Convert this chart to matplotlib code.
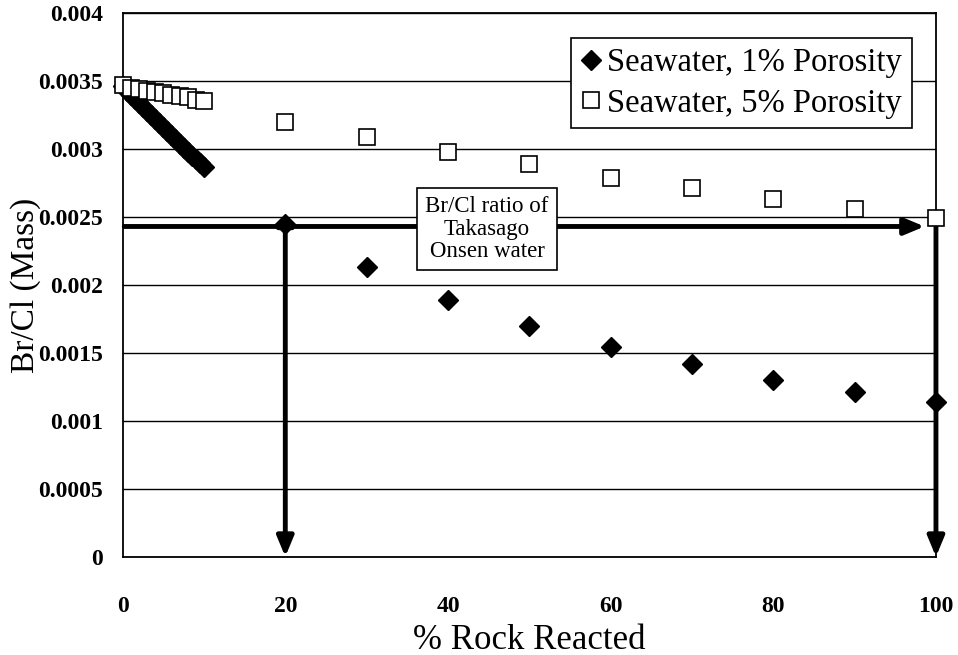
import matplotlib
matplotlib.use("Agg")
import matplotlib.pyplot as plt

# Model results: Br/Cl (mass) vs % rock reacted
x_1pct = [0, 0.5, 1, 1.5, 2, 2.5, 3, 3.5, 4, 4.5, 5, 5.5, 6, 6.5, 7, 7.5, 8, 8.5, 9, 9.5, 10,
          20, 30, 40, 50, 60, 70, 80, 90, 100]
y_1pct = [0.00346, 0.00343, 0.00340, 0.00337, 0.00334, 0.00331, 0.00328, 0.00325, 0.00322,
          0.00319, 0.00316, 0.00313, 0.00310, 0.00307, 0.00304, 0.00301, 0.00298, 0.00295,
          0.00293, 0.00290, 0.00287,
          0.00245, 0.00213, 0.00189, 0.00170, 0.00154, 0.00142, 0.00130, 0.00121, 0.00114]

x_5pct = [0, 1, 2, 3, 4, 5, 6, 7, 8, 9, 10, 20, 30, 40, 50, 60, 70, 80, 90, 100]
y_5pct = [0.00347, 0.00345, 0.00344, 0.00343, 0.00342, 0.00341, 0.00340, 0.00339, 0.00338,
          0.00336, 0.00335, 0.00320, 0.00309, 0.00298, 0.00289, 0.00279, 0.00271, 0.00263,
          0.00256, 0.00249]

takasago_ratio = 0.00243
x_ticks = [0, 20, 40, 60, 80, 100]
y_ticks = [0, 0.0005, 0.001, 0.0015, 0.002, 0.0025, 0.003, 0.0035, 0.004]
y_tick_labels = ["0", "0.0005", "0.001", "0.0015", "0.002", "0.0025", "0.003", "0.0035", "0.004"]

plt.rcParams['font.family'] = ['Liberation Serif', 'DejaVu Serif']

fig = plt.figure(figsize=(9.58, 6.55), dpi=100)
ax = fig.add_axes([0.128, 0.150, 0.849, 0.830])

ax.set_xlim(0, 100)
ax.set_ylim(0, 0.004)
ax.set_xticks(x_ticks)
ax.set_yticks(y_ticks)
ax.set_yticklabels(y_tick_labels)
ax.tick_params(length=0, labelsize=17)
ax.tick_params(axis='y', pad=14)
ax.tick_params(axis='x', pad=28)
for lbl in ax.get_xticklabels() + ax.get_yticklabels():
    lbl.set_fontweight('bold')

ax.yaxis.grid(True, color='black', linewidth=1.0)
ax.set_axisbelow(True)
for sp in ax.spines.values():
    sp.set_linewidth(1.3)

ax.set_xlabel("% Rock Reacted", fontsize=25, labelpad=5)
ax.set_ylabel("Br/Cl (Mass)", fontsize=24)
ax.yaxis.set_label_coords(-0.100, 0.5)

# Arrows marking the Takasago Onsen Br/Cl ratio
arrow_kw = dict(arrowstyle='-|>,head_length=1.2,head_width=0.5', color='black', lw=3.5,
                shrinkA=0, shrinkB=0)
ax.annotate("", xy=(98.6, takasago_ratio), xytext=(0.2, takasago_ratio),
            arrowprops=arrow_kw, zorder=3)
ax.annotate("", xy=(20, 0), xytext=(20, takasago_ratio), arrowprops=arrow_kw, zorder=3)
ax.annotate("", xy=(20, 0.00251), xytext=(20, takasago_ratio - 0.00002),
            arrowprops=dict(arrowstyle='-|>,head_length=0.6,head_width=0.5', color='black',
                            lw=3.5, shrinkA=0, shrinkB=0), zorder=3)
ax.annotate("", xy=(100, 0), xytext=(100, y_5pct[-1]), arrowprops=arrow_kw, zorder=3,
            annotation_clip=False)

ax.text(44.8, 0.00241, "Br/Cl ratio of\nTakasago\nOnsen water", fontsize=16.5,
        ha='center', va='center', linespacing=1.08, zorder=5,
        bbox=dict(boxstyle='square,pad=0.35', facecolor='white', edgecolor='black', lw=1.2))

ax.plot(x_1pct, y_1pct, linestyle='none', marker='D', markersize=10, color='black',
        label="Seawater, 1% Porosity", zorder=2.5, clip_on=False)
ax.plot(x_5pct, y_5pct, linestyle='none', marker='s', markersize=12, markerfacecolor='white',
        markeredgecolor='black', markeredgewidth=1.2, label="Seawater, 5% Porosity", zorder=4,
        clip_on=False)

leg = ax.legend(loc='upper right', bbox_to_anchor=(0.970, 0.954), fontsize=23.5, frameon=True,
                fancybox=False, edgecolor='black', framealpha=1, handletextpad=0.2,
                handlelength=0.6, borderpad=0.3, labelspacing=0.3, borderaxespad=0)
leg.get_frame().set_linewidth(1.2)
leg.set_zorder(6)

fig.savefig("out.png", dpi=100, facecolor='white')
